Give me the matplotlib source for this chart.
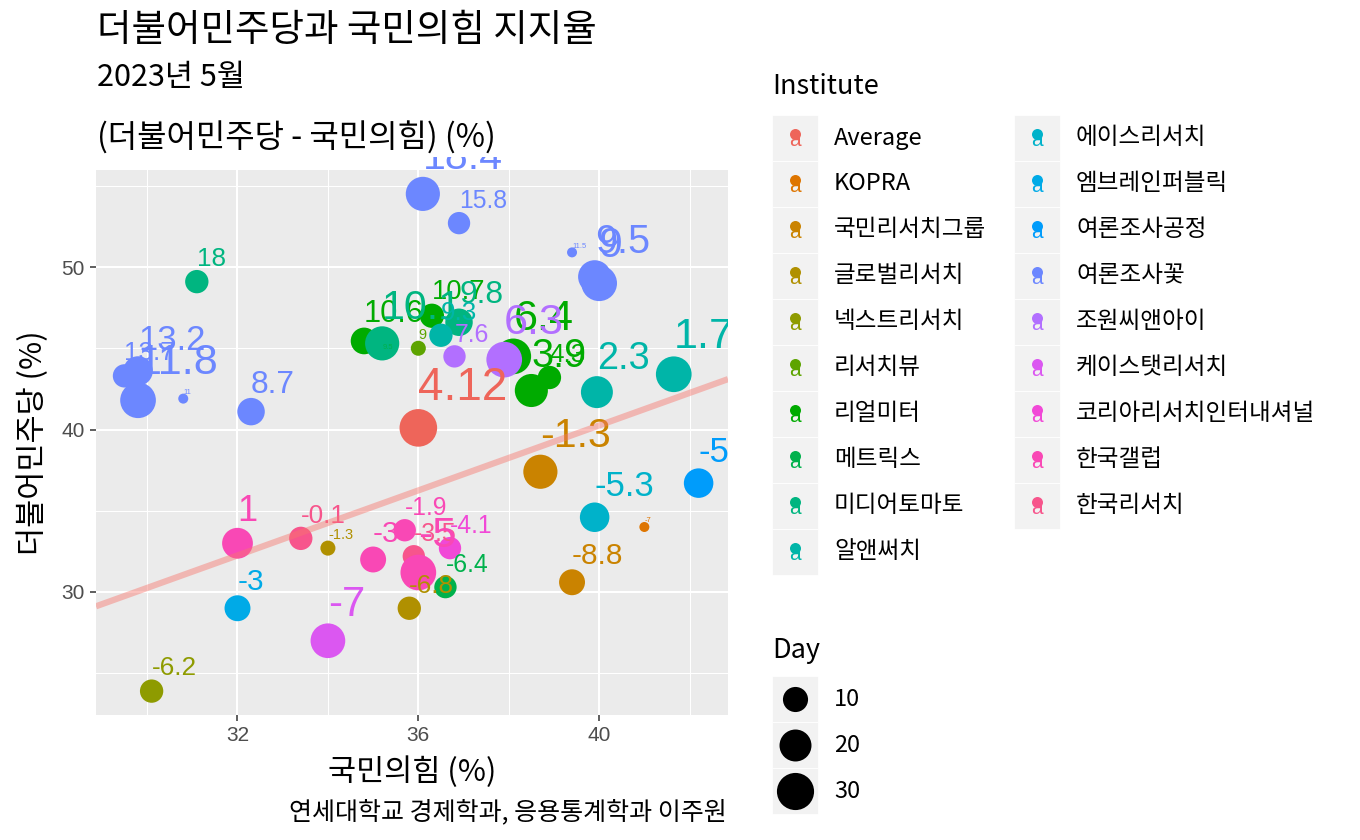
import numpy as np
import matplotlib
matplotlib.use("Agg")
import matplotlib.pyplot as plt
from matplotlib.patches import Rectangle

plt.rcParams['font.family'] = ['Noto Sans CJK KR', 'DejaVu Sans']

# 기관 (legend order)
institutes = ["Average", "KOPRA", "국민리서치그룹", "글로벌리서치", "넥스트리서치",
              "리서치뷰", "리얼미터", "메트릭스", "미디어토마토", "알앤써치",
              "에이스리서치", "엠브레인퍼블릭", "여론조사공정", "여론조사꽃", "조원씨앤아이",
              "케이스탯리서치", "코리아리서치인터내셔널", "한국갤럽", "한국리서치"]

# 조사별 값
inst = ["Average", "KOPRA", "국민리서치그룹", "국민리서치그룹", "글로벌리서치", "글로벌리서치",
        "넥스트리서치", "리서치뷰", "리얼미터", "리얼미터", "리얼미터", "리얼미터", "리얼미터",
        "메트릭스", "메트릭스", "미디어토마토", "미디어토마토", "미디어토마토",
        "알앤써치", "알앤써치", "알앤써치", "에이스리서치", "엠브레인퍼블릭", "여론조사공정",
        "여론조사꽃", "여론조사꽃", "여론조사꽃", "여론조사꽃", "여론조사꽃", "여론조사꽃",
        "여론조사꽃", "여론조사꽃", "여론조사꽃", "여론조사꽃",
        "조원씨앤아이", "조원씨앤아이", "케이스탯리서치", "코리아리서치인터내셔널",
        "한국갤럽", "한국리서치", "한국갤럽", "한국갤럽", "한국리서치", "한국갤럽"]
ppp = [36.0, 41.0, 38.7, 39.4, 34.0, 35.8,
       30.1, 36.0, 34.8, 36.3, 38.1, 38.5, 38.9,
       36.6, 35.2, 31.1, 35.2, 36.9,
       36.5, 39.95, 41.65, 39.9, 32.0, 42.2,
       36.1, 36.9, 39.4, 40.0, 39.9, 29.5,
       29.8, 29.8, 30.8, 32.3,
       37.9, 36.8, 34.0, 36.7,
       32.0, 33.4, 35.0, 35.7, 35.9, 36.0]
dpk = [40.1, 34.0, 37.4, 30.6, 32.7, 29.0,
       23.9, 45.0, 45.45, 47.0, 44.5, 42.4, 43.2,
       30.3, 44.7, 49.1, 45.3, 46.6,
       45.8, 42.3, 43.4, 34.6, 29.0, 36.7,
       54.5, 52.7, 50.9, 49.0, 49.4, 43.3,
       43.6, 41.8, 41.9, 41.1,
       44.3, 44.5, 27.0, 32.7,
       33.0, 33.3, 32.0, 33.8, 32.2, 31.2]
day = [31, 1, 24, 11, 2, 8,
       8, 2, 12, 9, 27, 22, 8,
       7, 1, 8, 24, 13,
       8, 20, 27, 16, 11, 16,
       24, 7, 1, 27, 22, 8,
       16, 27, 1, 13,
       27, 7, 25, 7,
       18, 8, 11, 7, 7, 27]
labels = ["4.12", "-7", "-1.3", "-8.8", "-1.3", "-6.8",
          "-6.2", "9", "10.6", "10.7", "6.4", "3.9", "4.3",
          "-6.4", "9.5", "18", "10.1", "9.8",
          "9.3", "2.3", "1.7", "-5.3", "-3", "-5.5",
          "18.4", "15.8", "11.5", "9", "9.5", "13.7",
          "13.2", "11.8", "11", "8.7",
          "6.3", "7.6", "-7", "-4.1",
          "1", "-0.1", "-3", "-1.9", "-3.5", "-5"]

line_intercept = 0.25
line_slope = 1.0

legend_days = [10, 20, 30]


def hue_color(h, c=108, l=60):
    hr = np.deg2rad(h)
    u, v = c * np.cos(hr), c * np.sin(hr)
    Xn, Yn, Zn = 95.047, 100.0, 108.883
    Y = Yn * ((l + 16) / 116) ** 3
    den = Xn + 15 * Yn + 3 * Zn
    up = u / (13 * l) + 4 * Xn / den
    vp = v / (13 * l) + 9 * Yn / den
    X = Y * 9 * up / (4 * vp)
    Z = Y * (12 - 3 * up - 20 * vp) / (4 * vp)
    M = np.array([[3.2404542, -1.5371385, -0.4985314],
                  [-0.9692660, 1.8760108, 0.0415560],
                  [0.0556434, -0.2040259, 1.0572252]])
    rgb = np.clip(M @ (np.array([X, Y, Z]) / 100), 0, None)
    rgb = np.where(rgb <= 0.0031308, 12.92 * rgb, 1.055 * rgb ** (1 / 2.4) - 0.055)
    return tuple(np.clip(rgb, 0, 1))


n = len(institutes)
hues = np.linspace(15, 375, n + 1)[:n]
pal = {name: hue_color(h) for name, h in zip(institutes, hues)}

dmin, dmax = 1, 31


def sval(d):
    return np.sqrt((d - dmin) / (dmax - dmin))


def diam_px(d):
    return 10 + 27.6 * sval(d)


W, H = 1360, 840
fig = plt.figure(figsize=(13.6, 8.4), dpi=100)
ax = fig.add_axes([96 / W, 1 - 715 / H, 632 / W, 545 / H])
ax.set_facecolor('#EBEBEB')
ax.set_xlim(28.87, 42.85)
ax.set_ylim(22.43, 55.97)
ax.set_xticks([32, 36, 40])
ax.set_yticks([30, 40, 50])
ax.set_xticks([30, 34, 38, 42], minor=True)
ax.set_yticks([25, 35, 45, 55], minor=True)
ax.grid(which='major', color='white', lw=1.5)
ax.grid(which='minor', color='white', lw=0.75)
ax.set_axisbelow(True)
for sp in ax.spines.values():
    sp.set_visible(False)
ax.tick_params(which='major', length=4, width=1.1, color='#333333',
               labelsize=15, labelcolor='#4D4D4D', pad=4)
ax.tick_params(which='minor', length=0)
for t in ax.get_xticklabels() + ax.get_yticklabels():
    t.set_family('Liberation Sans')

cols = [pal[i] for i in inst]
sizes = [(0.72 * diam_px(d)) ** 2 for d in day]
ax.scatter(ppp, dpk, s=sizes, c=cols, linewidths=0, zorder=2)

# labels are clipped at the panel sides, a little above the panel top
clip_rect = Rectangle((0, 0), 1, 1 + 13 / 545, transform=ax.transAxes,
                      facecolor='none', edgecolor='none')
for x, y, d, lab, c in zip(ppp, dpk, day, labels, cols):
    fs = 5.5 + 27.5 * sval(d)
    t = ax.annotate(lab, (x, y), xytext=(0, 0.6 * fs), textcoords='offset points',
                    ha='left', va='baseline', fontsize=fs, color=c,
                    family='Liberation Sans', zorder=3, annotation_clip=False)
    t.set_clip_path(clip_rect)

xx = np.array(ax.get_xlim())
ax.plot(xx, line_intercept + line_slope * xx, color='#F8766D', alpha=0.45, lw=4.5,
        zorder=4, solid_capstyle='butt')

ax.set_xlabel("국민의힘 (%)", fontsize=22, va='center')
ax.xaxis.set_label_coords(0.5, -(772 - 715) / 545)
ax.set_ylabel("더불어민주당 (%)", fontsize=22, va='center')
ax.yaxis.set_label_coords(-(96 - 33) / 632, 0.5)

fig.text(97 / W, 1 - 30 / H, "더불어민주당과 국민의힘 지지율", fontsize=27, va='center', ha='left')
fig.text(97 / W, 1 - 77 / H, "2023년 5월", fontsize=22, va='center', ha='left')
fig.text(97 / W, 1 - 138 / H, "(더불어민주당 - 국민의힘) (%)", fontsize=23, va='center', ha='left')
fig.text(727 / W, 1 - 812 / H, "연세대학교 경제학과, 응용통계학과 이주원", fontsize=18,
         va='center', ha='right')

# legends
lax = fig.add_axes([0, 0, 1, 1])
lax.set_xlim(0, W)
lax.set_ylim(H, 0)
lax.axis('off')

lax.text(772, 87, "Institute", fontsize=19.5, va='center', ha='left')
row_h = 46
for k, name in enumerate(institutes):
    col, row = divmod(k, 10)
    kx = 772 if col == 0 else 1014
    ky = 115 + row * row_h
    lax.add_patch(Rectangle((kx, ky), 46, row_h, facecolor='#F2F2F2', edgecolor='white', lw=0.6))
    cx, cy = kx + 23, ky + row_h / 2
    lax.scatter([cx], [cy - 4], s=(0.72 * 11) ** 2, color=pal[name], linewidths=0, zorder=3)
    lax.text(cx, cy + 3, "a", fontsize=15, color=pal[name], ha='center', va='center',
             family='Liberation Sans', zorder=3)
    lax.text(kx + 62, cy, name, fontsize=17, va='center', ha='left')

lax.text(772, 650, "Day", fontsize=19.5, va='center', ha='left')
for k, d in enumerate(legend_days):
    ky = 676 + k * row_h
    lax.add_patch(Rectangle((772, ky), 46, row_h, facecolor='#F2F2F2', edgecolor='white', lw=0.6))
    lax.scatter([795], [ky + row_h / 2], s=(0.72 * diam_px(d)) ** 2, color='black',
                linewidths=0, zorder=3)
    lax.text(834, ky + row_h / 2, str(d), fontsize=17, va='center', ha='left')

fig.savefig("out.png", dpi=100)
